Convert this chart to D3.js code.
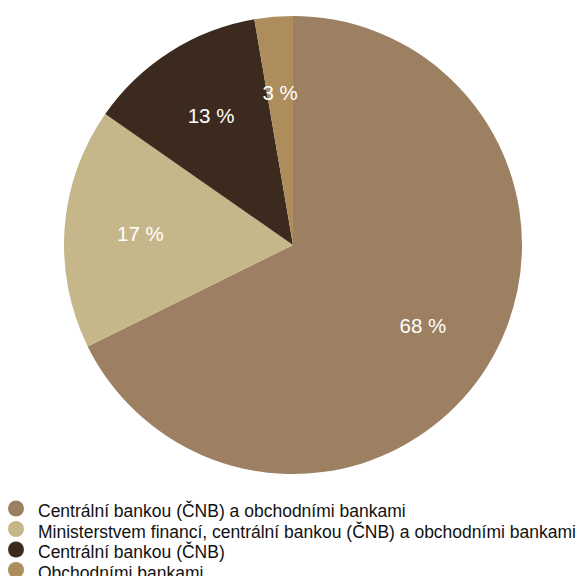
<!DOCTYPE html>
<html>
<head>
<meta charset="utf-8">
<script src="https://cdn.jsdelivr.net/npm/d3@7"></script>
<style>
  body { margin: 0; background: #fff; overflow: hidden; }
  text { font-family: "Liberation Sans", Arial, sans-serif; }
</style>
</head>
<body>
<svg id="chart" width="577" height="576"></svg>
<script>
const categories = [
  "Centrální bankou (ČNB) a obchodními bankami",
  "Ministerstvem financí, centrální bankou (ČNB) a obchodními bankami",
  "Centrální bankou (ČNB)",
  "Obchodními bankami"
];
const values = [67.7, 17.0, 12.6, 2.7];
const colors = ["#9d7f61", "#c6b78a", "#3d2a1f", "#ad8d5c"];

const svg = d3.select("#chart");
const cx = 293, cy = 245, radius = 229;

const color = d3.scaleOrdinal().domain(categories).range(colors);
const total = d3.sum(values);
const data = categories.map((c, i) => ({ name: c, value: values[i] }));

const pie = d3.pie().value(d => d.value).sort(null);
const arc = d3.arc().innerRadius(0).outerRadius(radius);
const labelArc = d3.arc().innerRadius(radius * 0.668).outerRadius(radius * 0.668);

const g = svg.append("g").attr("transform", `translate(${cx},${cy})`);

const slices = g.selectAll("g.slice")
  .data(pie(data))
  .join("g")
  .attr("class", "slice");

slices.append("path")
  .attr("d", arc)
  .attr("fill", d => color(d.data.name));

slices.append("text")
  .attr("transform", d => `translate(${labelArc.centroid(d)})`)
  .attr("text-anchor", "middle")
  .attr("dy", "0.36em")
  .attr("fill", "#fff")
  .style("font-size", "20.5px")
  .text(d => Math.round(d.data.value / total * 100) + " %");

// legend
const legend = svg.append("g").attr("transform", "translate(0,517)");
const rowH = 20.5;

const items = legend.selectAll("g")
  .data(categories)
  .join("g")
  .attr("transform", (d, i) => `translate(0,${i * rowH})`);

items.append("circle")
  .attr("cx", 16)
  .attr("cy", -8.5)
  .attr("r", 8)
  .attr("fill", d => color(d));

items.append("text")
  .attr("x", 38)
  .attr("y", 0)
  .attr("fill", "#111")
  .style("font-size", "17.5px")
  .text(d => d);
</script>
</body>
</html>
